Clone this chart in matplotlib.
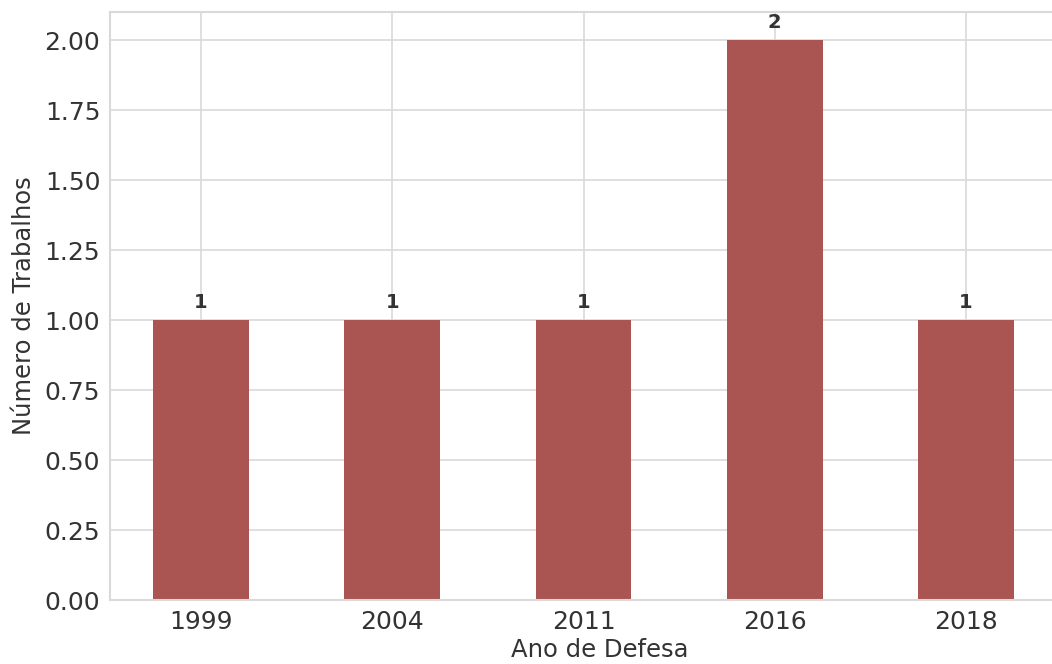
import matplotlib
matplotlib.use("Agg")
import matplotlib.pyplot as plt
import numpy as np

years = ["1999", "2004", "2011", "2016", "2018"]
counts = [1, 1, 1, 2, 1]

W, H = 1052, 664
fig = plt.figure(figsize=(W / 100, H / 100), dpi=100)
left_px, spacing = 110, 191.25
x0 = -0.476
x1 = len(years) - 0.35
ax_w = (x1 - x0) * spacing
ax = fig.add_axes([left_px / W, (H - 600) / H, ax_w / W, 588 / H])

x = np.arange(len(years))
ax.bar(x, counts, width=0.5, color="#AB5553", zorder=2)
ax.set_xlim(x0, x1)
ax.set_ylim(0, 2.1)
yt = np.arange(0, 2.01, 0.25)
ax.set_yticks(yt)
ax.set_yticklabels([f"{v:.2f}" for v in yt])
ax.set_xticks(x)
ax.set_xticklabels(years)

gridc = "#d9d9d9"
ax.grid(True, color=gridc, linewidth=1.2, zorder=0)
ax.set_axisbelow(True)
for s in ax.spines.values():
    s.set_color(gridc)
    s.set_linewidth(1.5)

txt = "#333333"
ax.tick_params(axis="both", which="both", length=0, labelsize=18, colors=txt, pad=7)
ax.set_xlabel("Ano de Defesa", fontsize=17.5, color=txt, labelpad=3)
ax.set_ylabel("Número de Trabalhos", fontsize=17.5, color=txt, labelpad=6)

for xi, c in zip(x, counts):
    ax.annotate(str(c), (xi, c), xytext=(0, 6), textcoords="offset points",
                ha="center", va="bottom", fontsize=14, fontweight="bold", color=txt)

fig.savefig("out.png", dpi=100)
